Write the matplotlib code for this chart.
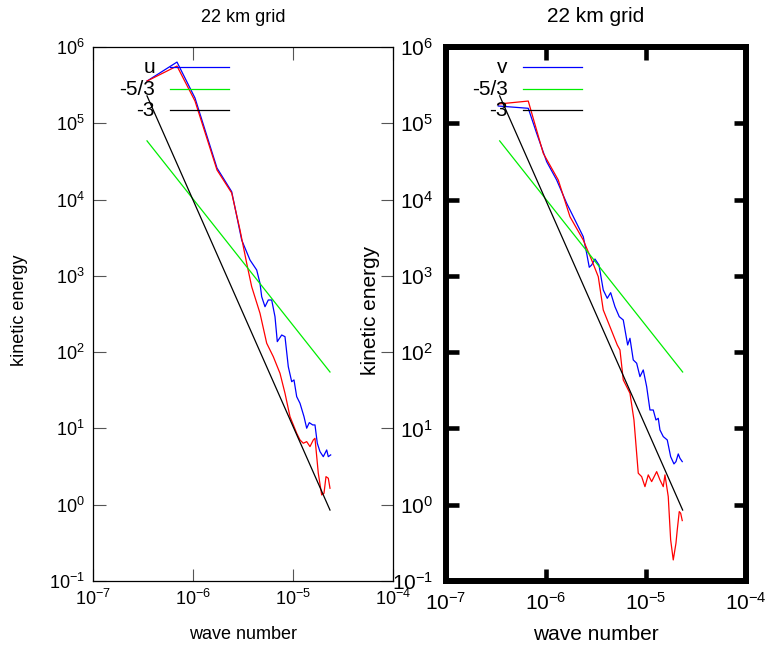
import matplotlib
matplotlib.use('Agg')
import matplotlib.pyplot as plt
import numpy as np
from matplotlib.ticker import FixedLocator, FuncFormatter, NullLocator

plt.rcParams['font.family'] = ['Liberation Sans', 'DejaVu Sans']
plt.rcParams['mathtext.fontset'] = 'custom'
plt.rcParams['mathtext.rm'] = 'Liberation Sans'
plt.rcParams['mathtext.it'] = 'Liberation Sans:italic'
plt.rcParams['mathtext.bf'] = 'Liberation Sans:bold'

# values, stored as log10 (wave number, kinetic energy)
u_k = [-6.46, -6.16, -5.98, -5.76, -5.613, -5.513, -5.43, -5.363, -5.33, -5.313,
       -5.28, -5.247, -5.213, -5.18, -5.157, -5.113, -5.08, -5.047, -5.013, -4.99,
       -4.963, -4.93, -4.89, -4.863, -4.837, -4.803, -4.78, -4.757, -4.73, -4.697,
       -4.663, -4.647, -4.623]
u_E = [5.554, 5.803, 5.332, 4.414, 4.104, 3.470, 3.208, 3.077, 2.903, 2.727,
       2.596, 2.684, 2.684, 2.465, 2.138, 2.225, 2.203, 1.810, 1.613, 1.636,
       1.417, 1.330, 1.155, 1.003, 1.076, 1.046, 1.046, 0.806, 0.696, 0.630,
       0.718, 0.630, 0.653]

u2_k = [-6.46, -6.16, -5.98, -5.76, -5.613, -5.53, -5.463, -5.413, -5.33, -5.263,
        -5.197, -5.13, -5.08, -5.03, -4.963, -4.93, -4.897, -4.863, -4.83, -4.797,
        -4.78, -4.747, -4.713, -4.69, -4.67, -4.647, -4.63]
u2_E = [5.554, 5.751, 5.292, 4.388, 4.087, 3.602, 3.165, 2.858, 2.510, 2.117,
        1.941, 1.723, 1.461, 1.155, 0.937, 0.849, 0.806, 0.827, 0.762, 0.849,
        0.871, 0.413, 0.128, 0.150, 0.368, 0.347, 0.216]

v_k = [-6.474, -6.174, -6.09, -5.99, -5.89, -5.79, -5.624, -5.59, -5.564, -5.54,
       -5.507, -5.467, -5.424, -5.384, -5.35, -5.307, -5.264, -5.224, -5.18, -5.157,
       -5.124, -5.09, -5.057, -5.024, -4.99, -4.957, -4.924, -4.897, -4.874, -4.857,
       -4.824, -4.784, -4.75, -4.717, -4.697, -4.674, -4.657, -4.634]
v_E = [5.227, 5.197, 4.869, 4.497, 4.257, 3.952, 3.514, 3.296, 3.113, 3.143,
       3.221, 3.143, 2.815, 2.706, 2.780, 2.596, 2.465, 2.422, 2.094, 2.182,
       1.898, 1.855, 1.679, 1.767, 1.548, 1.242, 1.242, 1.111, 1.133, 0.980,
       0.893, 0.849, 0.630, 0.535, 0.565, 0.666, 0.609, 0.565]

v2_k = [-6.474, -6.174, -6.024, -5.874, -5.757, -5.624, -5.54, -5.474, -5.424, -5.357,
        -5.284, -5.257, -5.224, -5.157, -5.117, -5.074, -5.04, -5.007, -4.974, -4.94,
        -4.89, -4.857, -4.824, -4.807, -4.774, -4.75, -4.724, -4.697, -4.684, -4.664,
        -4.65, -4.634]
v2_E = [5.253, 5.292, 4.607, 4.257, 3.776, 3.470, 3.208, 2.990, 2.553, 2.334,
        2.094, 2.029, 1.636, 1.461, 1.111, 0.413, 0.368, 0.237, 0.391, 0.303,
        0.434, 0.325, 0.237, 0.391, 0.106, -0.461, -0.724, -0.505, -0.330, -0.090,
        -0.111, -0.208]

# reference slopes
ref_k = [-6.46, -4.63]
ref53_E = [4.77, 1.74]
ref3_E = [5.36, -0.07]

titles = ['22 km grid', '22 km grid']
key_names = [['u', '-5/3', '-3'], ['v', '-5/3', '-3']]
x_ticks = [1e-7, 1e-6, 1e-5, 1e-4]
y_ticks = [1e-1, 1, 1e1, 1e2, 1e3, 1e4, 1e5, 1e6]


def pow10(v, pos):
    return r'$\mathdefault{10^{%d}}$' % int(round(np.log10(v)))


def draw_panel(ax, blue_k, blue_E, red_k, red_E, title, keys, fs, thick):
    ax.set_xscale('log')
    ax.set_yscale('log')
    ax.plot(10 ** np.array(blue_k), 10 ** np.array(blue_E), color='#0000ff', lw=0.9)
    ax.plot(10 ** np.array(red_k), 10 ** np.array(red_E), color='#ff0000', lw=0.9)
    ax.plot(10 ** np.array(ref_k), 10 ** np.array(ref53_E), color='#00ee00', lw=0.9)
    ax.plot(10 ** np.array(ref_k), 10 ** np.array(ref3_E), color='black', lw=0.9)
    ax.set_xlim(1e-7, 1e-4)
    ax.set_ylim(1e-1, 1e6)

    for a in (ax.xaxis, ax.yaxis):
        a.set_major_locator(FixedLocator(x_ticks if a is ax.xaxis else y_ticks))
        a.set_minor_locator(NullLocator())
        a.set_major_formatter(FuncFormatter(pow10))

    if thick:
        for s in ax.spines.values():
            s.set_linewidth(4.3)
        ax.tick_params(which='major', direction='in', top=True, right=True,
                       length=9, width=3.3, labelsize=fs)
        ax.tick_params(axis='y', pad=9)
        ax.tick_params(axis='x', pad=8)
    else:
        for s in ax.spines.values():
            s.set_linewidth(0.9)
        ax.tick_params(which='major', direction='in', top=True, right=True,
                       length=9, width=0.8, color='#555555', labelsize=fs)
        ax.tick_params(axis='y', pad=6)
        ax.tick_params(axis='x', pad=6)

    ax.set_title(title, fontsize=fs, pad=18)
    ax.set_xlabel('wave number', fontsize=fs, va='center')
    ax.set_ylabel('kinetic energy', fontsize=fs, va='center')
    ax.xaxis.set_label_coords(0.5, -0.1)
    ax.yaxis.set_label_coords(-0.245 if not thick else -0.25, 0.507)

    # gnuplot style key: text then line sample
    colors = ['#0000ff', '#00ee00', 'black']
    rows = [0.9625, 0.921, 0.882]
    for name, c, yy in zip(keys, colors, rows):
        ax.text(0.207, yy, name, transform=ax.transAxes, ha='right', va='center',
                fontsize=15)
        ax.plot([0.257, 0.453], [yy, yy], transform=ax.transAxes, color=c, lw=0.9)


fig = plt.figure(figsize=(7.68, 6.48), dpi=100)
ax1 = fig.add_axes([0.1211, 0.1034, 0.3906, 0.824])
ax2 = fig.add_axes([0.5803, 0.1034, 0.3906, 0.824])

draw_panel(ax1, u_k, u_E, u2_k, u2_E, titles[0], key_names[0], 13, False)
draw_panel(ax2, v_k, v_E, v2_k, v2_E, titles[1], key_names[1], 15, True)

fig.savefig('out.png', dpi=100)
